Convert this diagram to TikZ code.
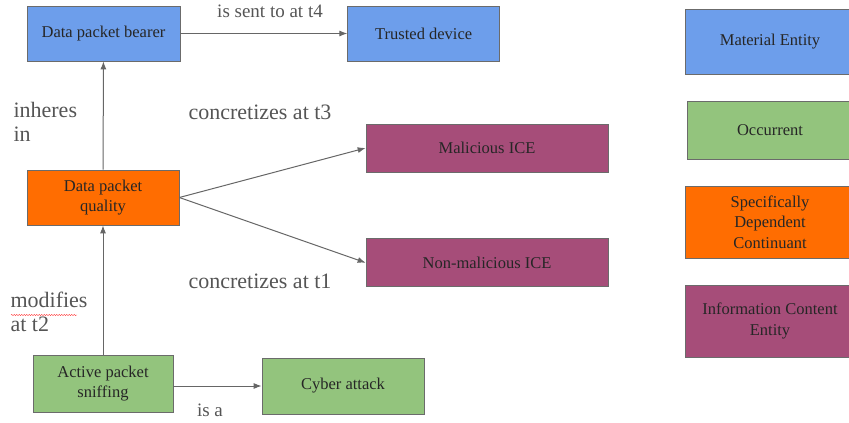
\documentclass[tikz,border=0pt]{standalone}
\usepackage{fontspec}
\setmainfont{Liberation Serif}
\usepackage{xcolor}
\usetikzlibrary{arrows, arrows.meta, positioning, decorations.pathmorphing}

\definecolor{matblue}{HTML}{6D9EEB}
\definecolor{occgreen}{HTML}{93C47D}
\definecolor{sdcorange}{HTML}{FF6D01}
\definecolor{icepurple}{HTML}{A64D79}
\definecolor{boxline}{HTML}{6B6B6B}
\definecolor{linkgray}{HTML}{666666}
\definecolor{labelgray}{HTML}{555555}

\begin{document}
\begin{tikzpicture}[x=1pt, y=-1pt, >={Latex[length=8pt, width=6pt]}, auto]
    \tikzstyle{box} = [rectangle, draw=boxline, line width=0.7pt, align=center, text=black!85, font=\fontsize{16.5}{20.5}\selectfont]
    \tikzstyle{mat} = [box, fill=matblue]
    \tikzstyle{occ} = [box, fill=occgreen]
    \tikzstyle{sdc} = [box, fill=sdcorange]
    \tikzstyle{ice} = [box, fill=icepurple]
    \tikzstyle{link} = [->, draw=linkgray, line width=1pt]
    \tikzstyle{lbl} = [text=labelgray, font=\fontsize{22}{24}\selectfont]
    \tikzstyle{slbl} = [text=labelgray, font=\fontsize{19}{22}\selectfont]
    \useasboundingbox (0,0) rectangle (849,423);

    % main diagram
    \node [mat, minimum width=153pt, minimum height=55pt] at (103.5,33.5) (bearer) {Data packet bearer};
    \node [mat, minimum width=152pt, minimum height=55pt, right=167pt of bearer] (trusted) {Trusted device};
    \node [sdc, minimum width=152pt, minimum height=55pt] at (103,197.5) (quality) {Data packet\\quality};
    \node [ice, minimum width=242pt, minimum height=48pt] at (487,148) (mal) {Malicious ICE};
    \node [ice, minimum width=242pt, minimum height=48pt, below=66pt of mal] (nonmal) {Non-malicious ICE};
    \node [occ, minimum width=140pt, minimum height=57pt] at (103,383.5) (sniff) {Active packet\\sniffing};
    \node [occ, minimum width=162pt, minimum height=56pt] at (343,386) (attack) {Cyber attack};

    \draw [link] (bearer) -- (trusted);
    \draw [link] (quality) -- (bearer);
    \draw [link] (quality.east) -- (mal.west);
    \draw [link] (quality.east) -- (nonmal.west);
    \draw [link] (sniff) -- (quality);
    \draw [link] (sniff.east |- attack) -- (attack);

    % relation labels
    \node [slbl] at (270,11) (sent) {is sent to at t4};
    \node [lbl, align=left, anchor=north west] at (10,99) (inheres) {inheres\\in};
    \node [lbl] at (260,112) (conc3) {concretizes at t3};
    \node [lbl] at (260,281) (conc1) {concretizes at t1};
    \node [lbl, align=left, anchor=north west] at (7,288) (modifies) {modifies\\at t2};
    \draw [red!80, line width=0.4pt, decorate, decoration={snake, amplitude=0.6pt, segment length=2.5pt}] (11,315) -- (77,315);
    \node [slbl] at (210,410) (isa) {is a};

    % legend
    \node [mat, minimum width=170pt, minimum height=65pt] at (770,41.5) (legmat) {Material Entity};
    \node [occ, minimum width=166pt, minimum height=58pt] at (770,130) (legocc) {Occurrent};
    \node [sdc, minimum width=170pt, minimum height=72pt] at (770,222) (legsdc) {Specifically\\Dependent\\Continuant};
    \node [ice, minimum width=170pt, minimum height=72pt] at (770,321) (legice) {Information Content\\Entity};
\end{tikzpicture}
\end{document}
